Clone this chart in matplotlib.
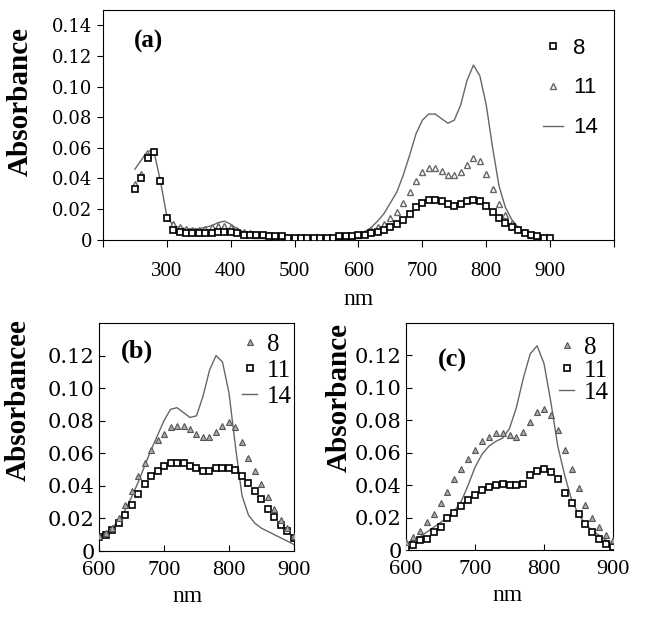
import matplotlib
matplotlib.use("Agg")
import matplotlib.pyplot as plt
import numpy as np

plt.rcParams['font.family'] = ['Liberation Serif', 'DejaVu Serif']

# ---- panel (a): full spectrum ----
nm_a = list(range(250, 901, 10))
abs8_a = [0.033, 0.040, 0.053, 0.057, 0.038, 0.014, 0.006, 0.005, 0.004, 0.004,
          0.004, 0.004, 0.004, 0.005, 0.005, 0.005, 0.004, 0.003, 0.003, 0.003,
          0.003, 0.002, 0.002, 0.002, 0.001, 0.001, 0.001, 0.001, 0.001, 0.001,
          0.001, 0.001, 0.002, 0.002, 0.002, 0.003, 0.003, 0.004, 0.005, 0.006,
          0.008, 0.010, 0.013, 0.017, 0.021, 0.024, 0.026, 0.026, 0.025, 0.023,
          0.022, 0.023, 0.025, 0.026, 0.025, 0.022, 0.018, 0.014, 0.011, 0.008,
          0.006, 0.004, 0.003, 0.002, 0.001, 0.001]
abs11_a = [0.036, 0.043, 0.055, 0.058, 0.039, 0.015, 0.010, 0.008, 0.007, 0.006,
           0.006, 0.007, 0.008, 0.009, 0.009, 0.008, 0.006, 0.005, 0.004, 0.003,
           0.003, 0.003, 0.002, 0.002, 0.001, 0.001, 0.001, 0.001, 0.001, 0.001,
           0.001, 0.001, 0.002, 0.002, 0.002, 0.003, 0.004, 0.006, 0.008, 0.010,
           0.014, 0.018, 0.024, 0.031, 0.038, 0.044, 0.047, 0.047, 0.045, 0.042,
           0.042, 0.044, 0.049, 0.053, 0.051, 0.043, 0.033, 0.023, 0.016, 0.011,
           0.007, 0.005, 0.003, 0.002, 0.001, 0.001]
abs14_a = [0.046, 0.052, 0.058, 0.057, 0.038, 0.015, 0.009, 0.008, 0.007, 0.007,
           0.007, 0.008, 0.009, 0.011, 0.012, 0.010, 0.007, 0.005, 0.004, 0.003,
           0.003, 0.002, 0.002, 0.001, 0.001, 0.0005, 0.0, 0.0, 0.0, 0.0,
           0.0005, 0.001, 0.001, 0.002, 0.003, 0.004, 0.005, 0.008, 0.012, 0.017,
           0.024, 0.031, 0.042, 0.055, 0.069, 0.078, 0.082, 0.082, 0.079, 0.076,
           0.078, 0.088, 0.104, 0.114, 0.107, 0.088, 0.060, 0.035, 0.021, 0.013,
           0.008, 0.005, 0.003, 0.002, 0.001, 0.0005]

# ---- panels (b) and (c): 600-900 nm ----
nm_bc = list(range(600, 901, 10))
abs8_b = [0.009, 0.011, 0.014, 0.020, 0.028, 0.037, 0.046, 0.054, 0.062, 0.068,
          0.072, 0.076, 0.077, 0.077, 0.075, 0.072, 0.070, 0.070, 0.073, 0.077,
          0.079, 0.076, 0.067, 0.057, 0.049, 0.041, 0.033, 0.026, 0.019, 0.014, 0.009]
abs11_b = [0.0085, 0.010, 0.013, 0.017, 0.022, 0.028, 0.035, 0.041, 0.046, 0.049,
           0.052, 0.054, 0.054, 0.054, 0.052, 0.051, 0.049, 0.049, 0.051, 0.051,
           0.051, 0.050, 0.046, 0.042, 0.037, 0.032, 0.026, 0.021, 0.016, 0.012, 0.008]
abs14_b = [0.0085, 0.011, 0.014, 0.019, 0.025, 0.033, 0.042, 0.052, 0.062, 0.071,
           0.080, 0.087, 0.088, 0.085, 0.082, 0.083, 0.095, 0.111, 0.120, 0.116,
           0.097, 0.064, 0.034, 0.022, 0.017, 0.014, 0.012, 0.010, 0.008, 0.006, 0.004]

abs8_c = [0.005, 0.008, 0.012, 0.017, 0.022, 0.029, 0.036, 0.044, 0.050, 0.056,
          0.062, 0.067, 0.070, 0.072, 0.072, 0.071, 0.070, 0.073, 0.079, 0.085,
          0.087, 0.083, 0.074, 0.062, 0.050, 0.038, 0.028, 0.020, 0.014, 0.009, 0.006]
abs11_c = [0.001, 0.003, 0.006, 0.007, 0.011, 0.014, 0.020, 0.023, 0.027, 0.031,
           0.034, 0.037, 0.039, 0.040, 0.041, 0.040, 0.040, 0.041, 0.046, 0.049,
           0.050, 0.048, 0.044, 0.035, 0.029, 0.022, 0.016, 0.011, 0.007, 0.004, 0.002]
abs14_c = [0.004, 0.006, 0.008, 0.011, 0.014, 0.017, 0.020, 0.024, 0.030, 0.040,
           0.051, 0.059, 0.064, 0.067, 0.069, 0.075, 0.088, 0.106, 0.121, 0.126,
           0.115, 0.091, 0.064, 0.046, 0.031, 0.022, 0.016, 0.012, 0.009, 0.006, 0.004]

line_col = '#666666'
tri_col = '#666666'

fig = plt.figure(figsize=(6.45, 6.21), dpi=100)

# ---------------- (a) ----------------
ax = fig.add_axes([0.1597, 0.6143, 0.7922, 0.3696])
ax.plot(nm_a, abs14_a, color=line_col, lw=1.0, label='14', zorder=2)
ax.plot(nm_a, abs11_a, ls='none', marker='^', ms=5, mfc='white', mec=tri_col,
        mew=1.0, label='11', zorder=3)
ax.plot(nm_a, abs8_a, ls='none', marker='s', ms=5, mfc='white', mec='black',
        mew=1.2, label='8', zorder=4)
ax.set_xlim(200, 1000)
ax.set_ylim(0, 0.15)
ax.set_xticks(range(200, 1001, 100))
ax.set_xticklabels([''] + [str(v) for v in range(300, 1000, 100)] + [''])
ax.set_yticks(np.arange(0, 0.141, 0.02))
ax.set_yticklabels(['0'] + ['%.2f' % v for v in np.arange(0.02, 0.141, 0.02)],
                   family='DejaVu Serif', fontsize=13)
ax.tick_params(axis='x', direction='out', length=5, pad=11, labelsize=15)
ax.tick_params(axis='y', direction='out', length=4, pad=4)
ax.set_xlabel('nm', fontsize=17, va='center')
ax.xaxis.set_label_coords(0.5, -0.26)
ax.set_ylabel('Absorbance', fontsize=21, fontweight='bold', va='center')
ax.yaxis.set_label_coords(-0.162, 0.60)
ax.text(0.09, 0.865, '(a)', transform=ax.transAxes, fontsize=18,
        fontweight='bold', ha='center', va='center')
h, l = ax.get_legend_handles_labels()
ax.legend(h[::-1], l[::-1], loc='upper left', bbox_to_anchor=(0.861, 0.88),
          frameon=False, borderpad=0, borderaxespad=0, labelspacing=0.85,
          handlelength=0.9, handletextpad=0.45,
          prop={'family': 'Liberation Sans', 'size': 16})

# ---------------- (b) and (c) ----------------
def small_panel(rect, s8, s11, s14, ylab, tag, tagpos, xlab_x, ylab_y, ylab_x,
                leg_anchor, leg_space):
    ax = fig.add_axes(rect)
    ax.plot(nm_bc, s14, color=line_col, lw=1.0, label='14', zorder=2)
    ax.plot(nm_bc, s11, ls='none', marker='s', ms=4.5, mfc='white', mec='black',
            mew=1.2, label='11', zorder=3)
    ax.plot(nm_bc, s8, ls='none', marker='^', ms=4, mfc='#aaaaaa', mec='#555555',
            mew=0.8, label='8', zorder=4)
    ax.set_xlim(600, 900)
    ax.set_ylim(0, 0.14)
    ax.set_xticks([600, 700, 800, 900])
    ax.set_yticks(np.arange(0, 0.121, 0.02))
    ax.set_yticklabels(['0'] + ['%.2f' % v for v in np.arange(0.02, 0.121, 0.02)],
                       family='DejaVu Serif', fontsize=15)
    ax.tick_params(direction='in', length=4, pad=3)
    ax.tick_params(axis='x', pad=7, labelsize=16)
    ax.set_xlabel('nm', fontsize=17, va='center')
    ax.xaxis.set_label_coords(xlab_x, -0.20)
    ax.set_ylabel(ylab, fontsize=21, fontweight='bold', va='center')
    ax.yaxis.set_label_coords(ylab_x, ylab_y)
    ax.text(tagpos[0], tagpos[1], tag, transform=ax.transAxes, fontsize=19,
            fontweight='bold', ha='center', va='center')
    h, l = ax.get_legend_handles_labels()
    ax.legend(h[::-1], l[::-1], loc='upper left', bbox_to_anchor=leg_anchor,
              frameon=False, borderpad=0, borderaxespad=0, labelspacing=leg_space,
              handlelength=0.6, handletextpad=0.4, prop={'size': 18})
    return ax

small_panel([0.1535, 0.1127, 0.3023, 0.3672], abs8_b, abs11_b, abs14_b,
            'Absorbancee', '(b)', (0.197, 0.875), 0.454, 0.66, -0.415,
            (0.735, 0.955), 0.15)
small_panel([0.6295, 0.1143, 0.3209, 0.3655], abs8_c, abs11_c, abs14_c,
            'Absorbance', '(c)', (0.225, 0.837), 0.49, 0.67, -0.325,
            (0.74, 0.94), 0.0)

fig.savefig('out.png', dpi=100)
